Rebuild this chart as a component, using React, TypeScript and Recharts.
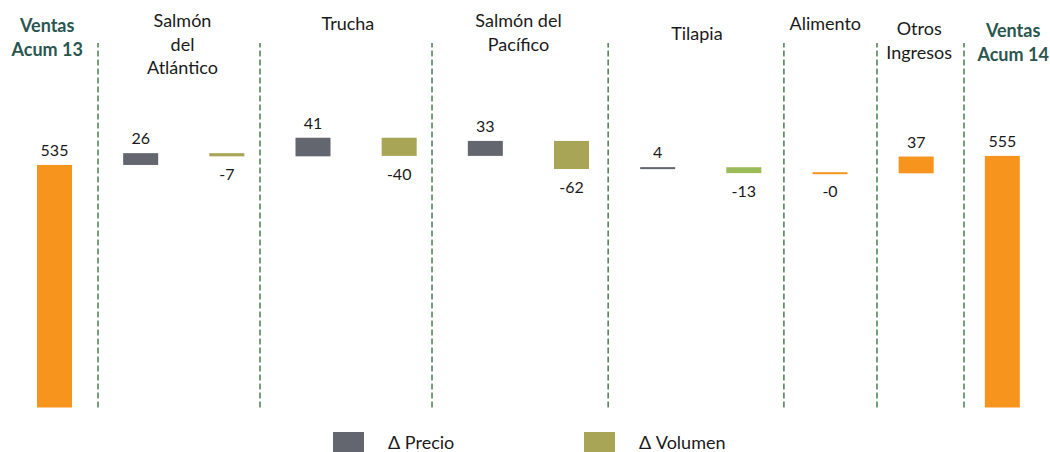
import React from 'react';
import { BarChart, Bar, XAxis, YAxis, Cell, LabelList, ReferenceLine } from 'recharts';

const categories = [
  'Ventas Acum 13',
  'Salmón del Atlántico Precio',
  'Salmón del Atlántico Volumen',
  'Trucha Precio',
  'Trucha Volumen',
  'Salmón del Pacífico Precio',
  'Salmón del Pacífico Volumen',
  'Tilapia Precio',
  'Tilapia Volumen',
  'Alimento',
  'Otros Ingresos',
  'Ventas Acum 14',
];
const deltas = [535, 26, -7, 41, -40, 33, -62, 4, -13, -0.4, 37, 555];
const kinds = ['total', 'delta', 'delta', 'delta', 'delta', 'delta', 'delta', 'delta', 'delta', 'delta', 'delta', 'total'];
const barColors = [
  '#F7941D', '#63666F', '#A9A557', '#63666F', '#A9A557', '#63666F',
  '#A9A557', '#63666F', '#9BBB59', '#F7941D', '#F7941D', '#F7941D',
];

// group headings: lines, center on the 0..12 band scale, first baseline (px from top)
const groupLines = [
  ['Ventas', 'Acum 13'],
  ['Salmón', 'del', 'Atlántico'],
  ['Trucha'],
  ['Salmón del', 'Pacífico'],
  ['Tilapia'],
  ['Alimento'],
  ['Otros', 'Ingresos'],
  ['Ventas', 'Acum 14'],
];
const groupBold = [true, false, false, false, false, false, false, true];
const groupCenters = [0.42, 1.99, 3.91, 5.89, 7.96, 9.45, 10.54, 11.63];
const groupTop = [32, 27, 30, 27, 40, 30, 35, 37];

const separators = [1.01, 2.89, 4.886, 6.93, 8.97, 10.05, 11.06];

const legendItems = [
  { label: 'Δ Precio', color: '#63666F', left: 333 },
  { label: 'Δ Volumen', color: '#A9A557', left: 584 },
];

const FONT = 'Lato, "Open Sans", sans-serif';

const fmt = (v: number) => `${v < 0 ? '-' : ''}${Math.abs(Math.round(v))}`;

let running = 0;
const data = categories.map((name, i) => {
  let range: [number, number];
  if (kinds[i] === 'total') {
    range = [0, deltas[i]];
    running = deltas[i];
  } else {
    const next = running + deltas[i];
    range = [Math.min(running, next), Math.max(running, next)];
    running = next;
  }
  return { name, pos: i + 0.5, range, label: fmt(deltas[i]) };
});

const MinBar = (props: any) => {
  const { x, y, width, height, fill } = props;
  const h = Math.max(Math.abs(height), 2);
  const top = height < 2 ? y + height / 2 - h / 2 : y;
  return <rect x={x} y={top} width={width} height={h} fill={fill} />;
};

const ValueLabel = (props: any) => {
  const { x, y, width, height, value } = props;
  const neg = String(value).startsWith('-');
  const cx = x + width / 2;
  const ty = neg ? y + Math.abs(height) + 24 : y - 9;
  return (
    <text x={cx} y={ty} textAnchor="middle" fontFamily={FONT} fontSize={16} fill="#1a1a1a">
      {value}
    </text>
  );
};

const GroupLabel = (props: any) => {
  const { viewBox, lines, bold, top } = props;
  const cx = viewBox.x;
  return (
    <text
      textAnchor="middle"
      fontFamily={FONT}
      fontSize={18}
      fontWeight={bold ? 700 : 400}
      fill={bold ? '#2B5650' : '#1a1a1a'}
    >
      {lines.map((l: string, i: number) => (
        <tspan key={i} x={cx} y={top + i * 23.5}>
          {l}
        </tspan>
      ))}
    </text>
  );
};

export default function App() {
  return (
    <div style={{ position: 'absolute', left: 0, top: 0, width: 1050, height: 452, background: '#fff' }}>
      <BarChart
        width={1050}
        height={452}
        data={data}
        margin={{ top: 43, right: 5, left: 11, bottom: 44.5 }}
        barSize={35}
      >
        <XAxis
          dataKey="name"
          height={0}
          tick={false}
          tickLine={false}
          axisLine={{ stroke: '#A6A6A6', strokeWidth: 2 }}
        />
        <XAxis
          xAxisId="num"
          dataKey="pos"
          type="number"
          domain={[0, 12]}
          allowDataOverflow
          padding={{ left: 0, right: 0 }}
          hide
        />
        <YAxis hide domain={[0, 804]} />
        {separators.map((s) => (
          <ReferenceLine
            key={s}
            xAxisId="num"
            x={s}
            stroke="#2F6A35"
            strokeDasharray="6 3"
            strokeWidth={1.3}
          />
        ))}
        {groupLines.map((lines, i) => (
          <ReferenceLine
            key={'g' + i}
            xAxisId="num"
            x={groupCenters[i]}
            stroke="none"
            label={<GroupLabel lines={lines} bold={groupBold[i]} top={groupTop[i]} />}
          />
        ))}
        <Bar dataKey="range" isAnimationActive={false} shape={<MinBar />}>
          {data.map((d, i) => (
            <Cell key={d.name} fill={barColors[i]} />
          ))}
          <LabelList dataKey="label" content={<ValueLabel />} />
        </Bar>
      </BarChart>
      {legendItems.map((it) => (
        <div
          key={it.label}
          style={{ position: 'absolute', top: 432, left: it.left, display: 'flex', alignItems: 'flex-start', fontFamily: FONT, fontSize: 18, color: '#1a1a1a' }}
        >
          <span style={{ display: 'inline-block', width: 31, height: 20, background: it.color, marginRight: 24 }} />
          <span style={{ lineHeight: '18px', marginTop: 1 }}>{it.label}</span>
        </div>
      ))}
    </div>
  );
}
